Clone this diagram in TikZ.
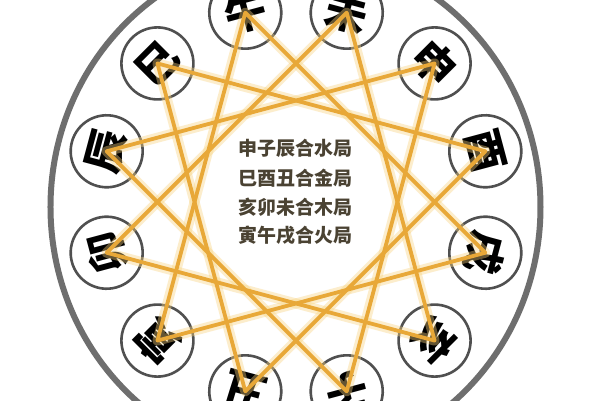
\documentclass[tikz,border=0pt]{standalone}
\usepackage{fontspec}
\newfontfamily\cjk{Noto Sans CJK SC}
\definecolor{ringgray}{HTML}{6E6E6E}
\definecolor{circgray}{HTML}{505050}
\definecolor{gold}{HTML}{E8A838}
\definecolor{goldglow}{HTML}{F8D480}
\definecolor{textbrown}{HTML}{4A4232}
\tikzset{
	branch/.style={circle,draw=circgray,line width=2.6pt,minimum size=72pt,inner sep=0pt,font=\cjk\bfseries\fontsize{42}{42}\selectfont},
	glow/.style={draw=goldglow,line width=10pt,opacity=0.4,line join=round},
	triline/.style={draw=gold,line width=3.8pt,line join=round},
	rule/.style={font=\cjk\bfseries\fontsize{19}{19}\selectfont,text=textbrown}
}
\begin{document}
\begin{tikzpicture}[x=1pt,y=1pt]
		\useasboundingbox[fill=white] (-296,-198) rectangle (304,202);
		\draw[color=ringgray,line width=6pt] (-0.5,-5) ellipse[x radius=245,y radius=255];
		\foreach \a/\n/\c in {105/wu/午, 75/wei/未, 45/shen/申, 15/you/酉, -15/xu/戌, -45/hai/亥, -75/zi/子, -105/chou/丑, -135/yin/寅, -165/mao/卯, 165/chen/辰, 135/si/巳}
			\node[branch,rotate=\a-90] (\n) at (\a:196) {\c};
		\foreach \p/\q/\r in {shen/zi/chen, si/you/chou, hai/mao/wei, yin/wu/xu}
			\draw[glow] (\p.center) -- (\q.center) -- (\r.center) -- cycle;
		\foreach \p/\q/\r in {shen/zi/chen, si/you/chou, hai/mao/wei, yin/wu/xu}
			\draw[triline] (\p.center) -- (\q.center) -- (\r.center) -- cycle;
		\foreach \y/\n/\t in {54/water/申子辰合水局, 24/metal/巳酉丑合金局, -5/wood/亥卯未合木局, -33/fire/寅午戌合火局}
			\node[rule] (\n) at (0,\y) {\t};
	\end{tikzpicture}
\end{document}
